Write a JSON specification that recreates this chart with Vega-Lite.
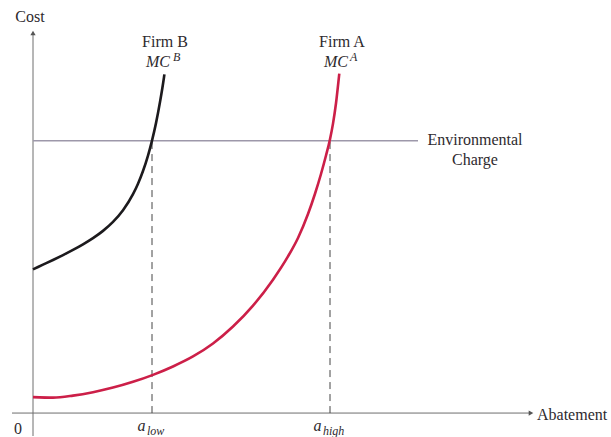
{
  "$schema": "https://vega.github.io/schema/vega-lite/v6.json",
  "width": 611,
  "height": 437,
  "padding": 0,
  "autosize": {"type": "fit", "contains": "padding"},
  "background": "white",
  "config": {"view": {"stroke": null}},
  "datasets": {
    "curves": [
      {"firm": "B", "abatement": 0, "cost": 144},
      {"firm": "B", "abatement": 10, "cost": 148.7},
      {"firm": "B", "abatement": 20, "cost": 153.4},
      {"firm": "B", "abatement": 30, "cost": 158.3},
      {"firm": "B", "abatement": 40, "cost": 163.5},
      {"firm": "B", "abatement": 50, "cost": 169.1},
      {"firm": "B", "abatement": 60, "cost": 175.3},
      {"firm": "B", "abatement": 70, "cost": 182.6},
      {"firm": "B", "abatement": 80, "cost": 191.6},
      {"firm": "B", "abatement": 90, "cost": 203.3},
      {"firm": "B", "abatement": 100, "cost": 219.4},
      {"firm": "B", "abatement": 105, "cost": 229.9},
      {"firm": "B", "abatement": 110, "cost": 242.6},
      {"firm": "B", "abatement": 115, "cost": 258.1},
      {"firm": "B", "abatement": 119, "cost": 273.1},
      {"firm": "B", "abatement": 123, "cost": 290.6},
      {"firm": "B", "abatement": 127, "cost": 311.7},
      {"firm": "B", "abatement": 131, "cost": 336.6},
      {"firm": "B", "abatement": 131.4, "cost": 339.5},
      {"firm": "A", "abatement": 0, "cost": 16},
      {"firm": "A", "abatement": 20, "cost": 15.5},
      {"firm": "A", "abatement": 40, "cost": 17.5},
      {"firm": "A", "abatement": 60, "cost": 20.9},
      {"firm": "A", "abatement": 80, "cost": 25.5},
      {"firm": "A", "abatement": 100, "cost": 31.3},
      {"firm": "A", "abatement": 120, "cost": 38.3},
      {"firm": "A", "abatement": 140, "cost": 46.7},
      {"firm": "A", "abatement": 160, "cost": 56.7},
      {"firm": "A", "abatement": 180, "cost": 69.7},
      {"firm": "A", "abatement": 200, "cost": 86.7},
      {"firm": "A", "abatement": 220, "cost": 107.7},
      {"firm": "A", "abatement": 240, "cost": 133.7},
      {"firm": "A", "abatement": 255, "cost": 157},
      {"firm": "A", "abatement": 265, "cost": 175.5},
      {"firm": "A", "abatement": 275, "cost": 199.5},
      {"firm": "A", "abatement": 282, "cost": 219.8},
      {"firm": "A", "abatement": 288, "cost": 239.6},
      {"firm": "A", "abatement": 293, "cost": 258.1},
      {"firm": "A", "abatement": 297, "cost": 274.5},
      {"firm": "A", "abatement": 300, "cost": 290.1},
      {"firm": "A", "abatement": 303, "cost": 310.5},
      {"firm": "A", "abatement": 306, "cost": 337.5},
      {"firm": "A", "abatement": 306.3, "cost": 340.3}
    ],
    "axes": [
      {"name": "vertical", "x1": 0, "x2": 0, "y1": -23, "y2": 381},
      {"name": "horizontal", "x1": -21, "x2": 496, "y1": 0, "y2": 0}
    ],
    "arrows": [
      {"name": "up", "x": 0, "y": 381, "shape": "triangle-up"},
      {"name": "right", "x": 498, "y": 0, "shape": "triangle-right"}
    ],
    "charge": [
      {"abatement": 0, "cost": 273},
      {"abatement": 385, "cost": 273}
    ],
    "dashes": [
      {"abatement": 119, "cost": 0, "cost2": 273},
      {"abatement": 297, "cost": 0, "cost2": 273}
    ],
    "labels": [
      {"label": "Cost", "x": -3, "y": 392},
      {"label": "Firm B", "x": 132, "y": 367},
      {"label": "Firm A", "x": 309, "y": 367},
      {"label": "Environmental", "x": 442, "y": 269},
      {"label": "Charge", "x": 442, "y": 249},
      {"label": "0", "x": -15, "y": -21}
    ],
    "italics": [
      {"label": "MC", "x": 125, "y": 347},
      {"label": "MC", "x": 303, "y": 347},
      {"label": "a", "x": 108.5, "y": -18},
      {"label": "a", "x": 284.5, "y": -18}
    ],
    "supers": [
      {"label": "B", "x": 140, "y": 353},
      {"label": "A", "x": 317, "y": 353}
    ],
    "subs": [
      {"label": "low", "x": 114, "y": -22},
      {"label": "high", "x": 290, "y": -22}
    ],
    "xlabel": [
      {"label": "Abatement", "x": 504, "y": -7}
    ]
  },
  "layer": [
    {
      "data": {"name": "axes"},
      "mark": {"type": "rule", "color": "#6e6e6e", "strokeWidth": 1},
      "encoding": {
        "x": {"field": "x1", "type": "quantitative", "scale": {"domain": [-33, 578], "nice": false, "zero": false}, "axis": null},
        "x2": {"field": "x2"},
        "y": {"field": "y1", "type": "quantitative", "scale": {"domain": [-23, 414], "nice": false, "zero": false}, "axis": null},
        "y2": {"field": "y2"}
      }
    },
    {
      "data": {"name": "arrows"},
      "mark": {"type": "point", "filled": true, "color": "#555555", "size": 28, "opacity": 1},
      "encoding": {
        "x": {"field": "x", "type": "quantitative"},
        "y": {"field": "y", "type": "quantitative"},
        "shape": {"field": "shape", "type": "nominal", "scale": null, "legend": null}
      }
    },
    {
      "data": {"name": "charge"},
      "mark": {"type": "line", "color": "#9d98aa", "strokeWidth": 1.5},
      "encoding": {
        "x": {"field": "abatement", "type": "quantitative"},
        "y": {"field": "cost", "type": "quantitative"}
      }
    },
    {
      "data": {"name": "dashes"},
      "mark": {"type": "rule", "color": "#444444", "strokeWidth": 1, "strokeDash": [7, 5]},
      "encoding": {
        "x": {"field": "abatement", "type": "quantitative"},
        "y": {"field": "cost", "type": "quantitative"},
        "y2": {"field": "cost2"}
      }
    },
    {
      "data": {"name": "curves"},
      "mark": {"type": "line", "interpolate": "monotone", "strokeWidth": 2.6},
      "encoding": {
        "x": {"field": "abatement", "type": "quantitative"},
        "y": {"field": "cost", "type": "quantitative"},
        "color": {"field": "firm", "type": "nominal", "scale": {"domain": ["A", "B"], "range": ["#cc1f48", "#1c1a1d"]}, "legend": null},
        "order": {"field": "abatement", "type": "quantitative"}
      }
    },
    {
      "data": {"name": "labels"},
      "mark": {"type": "text", "font": "Liberation Serif", "fontSize": 16, "align": "center", "baseline": "alphabetic", "color": "#2e2a2e"},
      "encoding": {
        "x": {"field": "x", "type": "quantitative"},
        "y": {"field": "y", "type": "quantitative"},
        "text": {"field": "label"}
      }
    },
    {
      "data": {"name": "italics"},
      "mark": {"type": "text", "font": "Liberation Serif", "fontStyle": "italic", "fontSize": 16, "align": "center", "baseline": "alphabetic", "color": "#2e2a2e"},
      "encoding": {
        "x": {"field": "x", "type": "quantitative"},
        "y": {"field": "y", "type": "quantitative"},
        "text": {"field": "label"}
      }
    },
    {
      "data": {"name": "supers"},
      "mark": {"type": "text", "font": "Liberation Serif", "fontStyle": "italic", "fontSize": 12, "align": "left", "baseline": "alphabetic", "color": "#2e2a2e"},
      "encoding": {
        "x": {"field": "x", "type": "quantitative"},
        "y": {"field": "y", "type": "quantitative"},
        "text": {"field": "label"}
      }
    },
    {
      "data": {"name": "subs"},
      "mark": {"type": "text", "font": "Liberation Serif", "fontStyle": "italic", "fontSize": 12, "align": "left", "baseline": "alphabetic", "color": "#2e2a2e"},
      "encoding": {
        "x": {"field": "x", "type": "quantitative"},
        "y": {"field": "y", "type": "quantitative"},
        "text": {"field": "label"}
      }
    },
    {
      "data": {"name": "xlabel"},
      "mark": {"type": "text", "font": "Liberation Serif", "fontSize": 16, "align": "left", "baseline": "alphabetic", "color": "#2e2a2e"},
      "encoding": {
        "x": {"field": "x", "type": "quantitative"},
        "y": {"field": "y", "type": "quantitative"},
        "text": {"field": "label"}
      }
    }
  ]
}
